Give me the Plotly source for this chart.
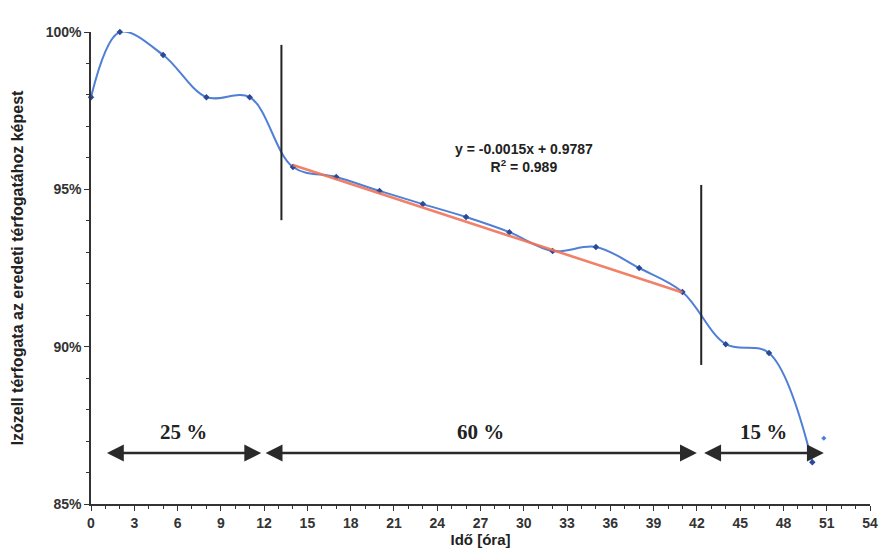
import plotly.graph_objects as go

# Measured data: time [hours] and relative volume
time_h = [0, 2, 5, 8, 11, 14, 17, 20, 23, 26, 29, 32, 35, 38, 41, 44, 47, 50]
volume = [0.9793, 1.0000, 0.9927, 0.9793, 0.9793, 0.9571, 0.9539, 0.9495, 0.9453,
          0.9412, 0.9364, 0.9304, 0.9317, 0.9250, 0.9174, 0.9008, 0.8980, 0.8633]

# Stray point near the end
extra_x = [50.8]
extra_y = [0.8709]

# Linear trend of the middle section
trend_slope = -0.0015
trend_intercept = 0.9787
trend_r2 = 0.989
trend_x = [14, 41]
trend_y = [trend_slope * x + trend_intercept for x in trend_x]

# Phase dividers (x position, y from, y to)
divider_x = [13.2, 42.3]
divider_y0 = [0.9402, 0.8942]
divider_y1 = [0.9959, 0.9514]

# Phase spans and labels
phase_start = [1.0, 12.0, 42.4]
phase_end = [11.8, 42.0, 50.8]
phase_labels = ["25 %", "60 %", "15 %"]
phase_y = 0.8662

x_ticks = list(range(0, 55, 3))
y_ticks = [0.85, 0.90, 0.95, 1.00]

fig = go.Figure()

fig.add_trace(go.Scatter(
    x=time_h, y=volume, mode="lines+markers",
    line=dict(color="#4f7fd6", width=2, shape="spline", smoothing=1.0),
    marker=dict(symbol="diamond", size=5, color="#2a4a98"),
    cliponaxis=False, showlegend=False))

fig.add_trace(go.Scatter(
    x=trend_x, y=trend_y, mode="lines",
    line=dict(color="#f07458", width=2.6),
    opacity=0.9, showlegend=False))

fig.add_trace(go.Scatter(
    x=extra_x, y=extra_y, mode="markers",
    marker=dict(symbol="diamond", size=4, color="#4f7fd6"),
    showlegend=False, cliponaxis=False))

for xv, y0, y1 in zip(divider_x, divider_y0, divider_y1):
    fig.add_shape(type="line", x0=xv, x1=xv, y0=y0, y1=y1,
                  xref="x", yref="y", line=dict(color="#222222", width=2))

for s, e, lab in zip(phase_start, phase_end, phase_labels):
    fig.add_annotation(x=e, y=phase_y, ax=s, ay=phase_y,
                       xref="x", yref="y", axref="x", ayref="y",
                       showarrow=True, arrowside="end+start", arrowhead=2,
                       arrowsize=1.3, arrowwidth=2.6, arrowcolor="#2a2a2a", text="")
    fig.add_annotation(x=(s + e) / 2, y=phase_y, yshift=21, text=lab,
                       showarrow=False, xref="x", yref="y",
                       font=dict(family="Liberation Serif", size=21, color="#222222", weight="bold"))

fig.add_annotation(x=30.0, y=0.9600,
                   text=f"y = {trend_slope:.4f}x + {trend_intercept:.4f}<br>R<sup>2</sup> = {trend_r2:.3f}",
                   showarrow=False, xref="x", yref="y",
                   font=dict(family="Liberation Sans", size=14, color="#222222", weight="bold"))

axis_font = dict(family="Liberation Sans", size=14, color="#333333", weight="bold")

fig.update_layout(
    width=881, height=560,
    margin=dict(l=91, r=11, t=32, b=56),
    paper_bgcolor="white", plot_bgcolor="white",
    xaxis=dict(range=[0, 54], tickvals=x_ticks, ticktext=[str(v) for v in x_ticks],
               ticklabeloverflow="allow", automargin=False,
               showgrid=False, zeroline=False, showline=True, linecolor="#333333", linewidth=1.5,
               ticks="outside", ticklen=5, tickcolor="#333333", tickfont=axis_font,
               minor=dict(dtick=1, ticks="outside", ticklen=3, tickcolor="#333333"),
               title=dict(text="Idő [óra]", standoff=2,
                          font=dict(family="Liberation Sans", size=15, color="#222222", weight="bold"))),
    yaxis=dict(range=[0.85, 1.0], tickvals=y_ticks, tickformat=".0%",
               showgrid=False, zeroline=False, showline=True, linecolor="#333333", linewidth=1.5,
               ticks="outside", ticklen=5, tickcolor="#333333", tickfont=axis_font,
               minor=dict(dtick=0.01, ticks="outside", ticklen=3, tickcolor="#333333"),
               title=dict(text="Izózell térfogata az eredeti térfogatához képest", standoff=18,
                          font=dict(family="Liberation Sans", size=16, color="#222222", weight="bold"))),
)

fig.write_html("out.html")
